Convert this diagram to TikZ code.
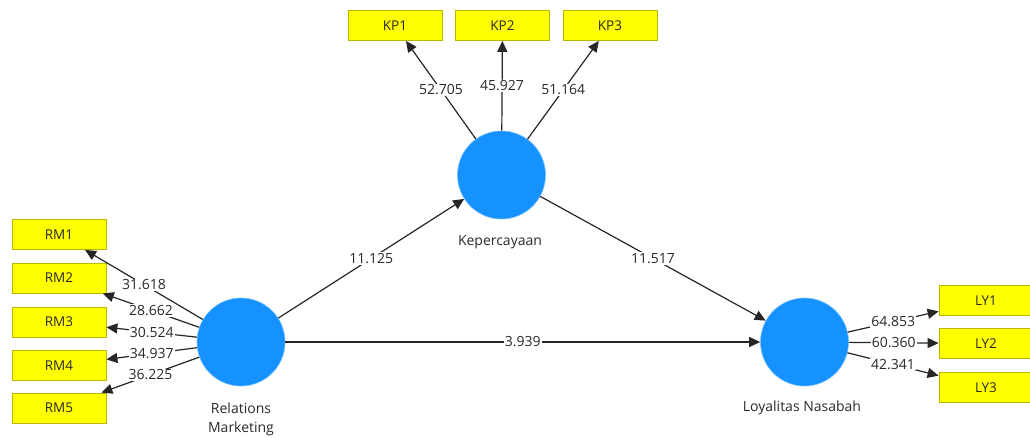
\documentclass[tikz,border=0pt]{standalone}
\usepackage{fontspec}
\setmainfont{Open Sans}
\usetikzlibrary{arrows.meta}
\definecolor{lvblue}{HTML}{1592FF}
\definecolor{indyel}{HTML}{FFFF00}
\definecolor{indborder}{HTML}{B8B800}
\definecolor{txt}{HTML}{2A2A2A}
\tikzset{
  latent/.style={circle, fill=lvblue, draw=lvblue!60, line width=0.6pt, minimum size=88pt, inner sep=0pt},
  indicator/.style={rectangle, fill=indyel, draw=indborder, line width=0.8pt, minimum width=94pt, minimum height=30pt, inner sep=0pt, text=txt, font=\fontsize{13.5}{15}\selectfont},
  conn/.style={draw=black!85, line width=1.2pt, -{Triangle[length=11pt,width=10pt]}},
  val/.style={fill=white, inner sep=1pt, text=txt, font=\fontsize{14}{16}\selectfont},
  lvname/.style={text=txt, font=\fontsize{14}{19}\selectfont, align=center}
}
\begin{document}
\begin{tikzpicture}[x=1pt,y=-1pt]
\useasboundingbox (0,0) rectangle (1030,437);
% latent variables
\node[latent] (rm) at (241,342) {};
\node[latent] (kp) at (501.5,175) {};
\node[latent] (ly) at (804.5,342) {};
\node[lvname] (rmname) at (241,419) {Relations\\Marketing};
\node[lvname] (kpname) at (500,242) {Kepercayaan};
\node[lvname] (lyname) at (802,408) {Loyalitas Nasabah};
% indicators
\node[indicator] (rm1) at (59,234.5) {RM1};
\node[indicator] (rm2) at (59,278) {RM2};
\node[indicator] (rm3) at (59,322) {RM3};
\node[indicator] (rm4) at (59,365.5) {RM4};
\node[indicator] (rm5) at (59,408) {RM5};
\node[indicator] (kp1) at (395,25.5) {KP1};
\node[indicator] (kp2) at (502.5,25.5) {KP2};
\node[indicator] (kp3) at (610,25.5) {KP3};
\node[indicator] (ly1) at (986,300.5) {LY1};
\node[indicator] (ly2) at (986,343.5) {LY2};
\node[indicator] (ly3) at (986,387.5) {LY3};
% outer loadings
\draw[conn] (rm) -- node[val, pos=0.5] (v1) {31.618} (rm1);
\draw[conn] (rm) -- node[val, pos=0.5] (v2) {28.662} (rm2);
\draw[conn] (rm) -- node[val, pos=0.5] (v3) {30.524} (rm3);
\draw[conn] (rm) -- node[val, pos=0.5] (v4) {34.937} (rm4);
\draw[conn] (rm) -- node[val, pos=0.5] (v5) {36.225} (rm5);
\draw[conn] (kp) -- node[val, pos=0.5] (v6) {52.705} (kp1);
\draw[conn] (kp) -- node[val, pos=0.5] (v7) {45.927} (kp2);
\draw[conn] (kp) -- node[val, pos=0.5] (v8) {51.164} (kp3);
\draw[conn] (ly) -- node[val, pos=0.5] (v9) {64.853} (ly1);
\draw[conn] (ly) -- node[val, pos=0.5] (v10) {60.360} (ly2);
\draw[conn] (ly) -- node[val, pos=0.5] (v11) {42.341} (ly3);
% structural paths
\draw[conn] (rm) -- node[val, pos=0.5] (p1) {11.125} (kp);
\draw[conn] (kp) -- node[val, pos=0.5] (p2) {11.517} (ly);
\draw[conn] (rm) -- node[val, pos=0.5] (p3) {3.939} (ly);
\end{tikzpicture}
\end{document}
